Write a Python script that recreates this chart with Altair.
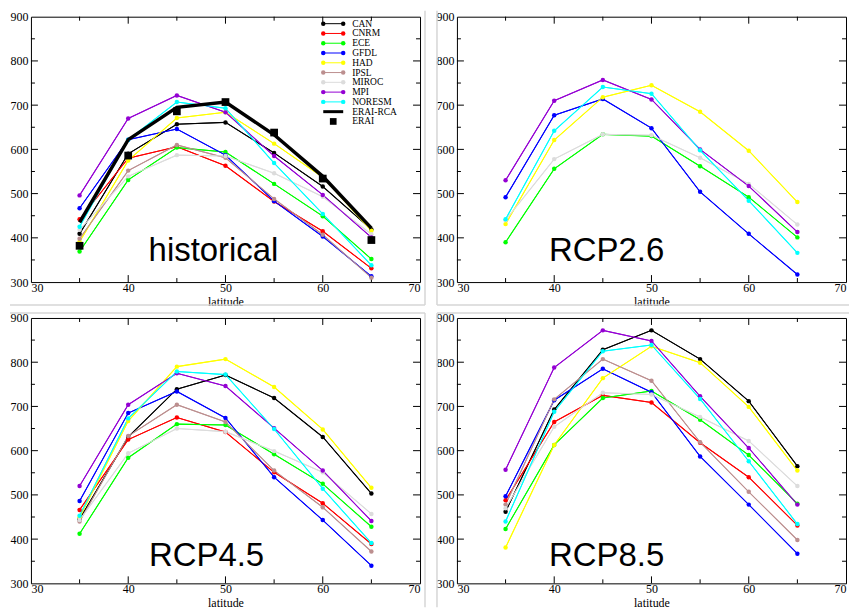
import altair as alt
import pandas as pd

# ---------------- data ----------------
LAT = [35, 40, 45, 50, 55, 60, 65]
MODELS = ["CAN", "CNRM", "ECE", "GFDL", "HAD", "IPSL", "MIROC", "MPI", "NORESM"]
LEGEND_ENTRIES = MODELS + ["ERAI-RCA", "ERAI"]
COLORS = ["#000000", "#ff0000", "#00ff00", "#0000ff", "#ffff00", "#bc8f8f",
          "#dcdcdc", "#9400d3", "#00ffff", "#000000", "#000000"]

X_LABELS = [30, 40, 50, 60, 70]
X_MAJOR = [40, 50, 60]
X_MINOR = [35, 45, 55, 65]
Y_LABELS = [300, 400, 500, 600, 700, 800, 900]
Y_MAJOR = [400, 500, 600, 700, 800]
Y_MINOR = [350, 450, 550, 650, 750, 850]

# historical
HIST_CAN = [409, 590, 657, 661, 592, 516, 419]
HIST_CNRM = [442, 580, 606, 563, 482, 415, 331]
HIST_ECE = [369, 531, 604, 594, 522, 449, 352]
HIST_GFDL = [467, 622, 646, 587, 483, 403, 313]
HIST_HAD = [391, 575, 671, 684, 613, 537, 416]
HIST_IPSL = [398, 552, 610, 581, 488, 407, 310]
HIST_MIROC = [418, 539, 587, 585, 546, 493, 408]
HIST_MPI = [496, 670, 722, 684, 585, 497, 401]
HIST_NORESM = [425, 622, 707, 693, 569, 454, 338]
HIST_ERAI_RCA = [435, 622, 695, 707, 633, 539, 422]
HIST_ERAI = [382, 586, 686, 707, 638, 534, 395]

# RCP2.6
R26_ECE = [390, 556, 634, 630, 562, 492, 401]
R26_GFDL = [492, 677, 714, 648, 504, 409, 317]
R26_HAD = [431, 621, 718, 745, 685, 597, 481]
R26_MIROC = [440, 578, 634, 632, 581, 522, 430]
R26_MPI = [530, 710, 757, 713, 600, 517, 413]
R26_NORESM = [442, 642, 741, 726, 598, 484, 366]

# RCP4.5
R45_CAN = [445, 631, 739, 771, 719, 631, 503]
R45_CNRM = [466, 625, 675, 642, 551, 481, 389]
R45_ECE = [412, 584, 660, 658, 592, 525, 428]
R45_GFDL = [486, 685, 734, 674, 540, 443, 340]
R45_HAD = [449, 667, 790, 807, 744, 648, 516]
R45_IPSL = [440, 633, 704, 665, 555, 472, 372]
R45_MIROC = [443, 594, 650, 643, 599, 551, 457]
R45_MPI = [520, 704, 775, 746, 651, 555, 441]
R45_NORESM = [453, 673, 779, 772, 649, 514, 391]

# RCP8.5
R85_CAN = [462, 693, 828, 872, 807, 712, 565]
R85_CNRM = [488, 665, 725, 709, 618, 540, 431]
R85_ECE = [423, 613, 719, 735, 670, 590, 480]
R85_GFDL = [497, 714, 785, 732, 587, 478, 367]
R85_HAD = [381, 613, 764, 836, 799, 699, 555]
R85_IPSL = [478, 716, 807, 758, 619, 507, 398]
R85_MIROC = [470, 654, 731, 727, 676, 622, 520]
R85_MPI = [557, 788, 872, 848, 723, 606, 478]
R85_NORESM = [440, 688, 825, 839, 717, 576, 434]

HIST_SERIES = {"CAN": HIST_CAN, "CNRM": HIST_CNRM, "ECE": HIST_ECE, "GFDL": HIST_GFDL,
               "HAD": HIST_HAD, "IPSL": HIST_IPSL, "MIROC": HIST_MIROC, "MPI": HIST_MPI,
               "NORESM": HIST_NORESM}
R26_SERIES = {"ECE": R26_ECE, "GFDL": R26_GFDL, "HAD": R26_HAD, "MIROC": R26_MIROC,
              "MPI": R26_MPI, "NORESM": R26_NORESM}
R45_SERIES = {"CAN": R45_CAN, "CNRM": R45_CNRM, "ECE": R45_ECE, "GFDL": R45_GFDL,
              "HAD": R45_HAD, "IPSL": R45_IPSL, "MIROC": R45_MIROC, "MPI": R45_MPI,
              "NORESM": R45_NORESM}
R85_SERIES = {"CAN": R85_CAN, "CNRM": R85_CNRM, "ECE": R85_ECE, "GFDL": R85_GFDL,
              "HAD": R85_HAD, "IPSL": R85_IPSL, "MIROC": R85_MIROC, "MPI": R85_MPI,
              "NORESM": R85_NORESM}

# ---------------- style ----------------
W, H = 390, 266
SERIF = "Liberation Serif"
SANS = "Liberation Sans"
BORDER = "#d6d6d6"

XS = alt.Scale(domain=[30, 70], nice=False, zero=False)
YS = alt.Scale(domain=[300, 900], nice=False, zero=False)
CS = alt.Scale(domain=LEGEND_ENTRIES, range=COLORS)


def xaxis():
    return alt.Axis(values=X_LABELS, title="latitude", ticks=False, domain=False, grid=False,
                    format="d", labelPadding=0, titlePadding=3)


def yaxis():
    return alt.Axis(values=Y_LABELS, title=None, ticks=False, domain=False, grid=False,
                    format="d", labelPadding=3)


def X():
    return alt.X("lat:Q", scale=XS, axis=xaxis())


def Y():
    return alt.Y("value:Q", scale=YS, axis=yaxis())


def long_df(series):
    rows = []
    for m in MODELS:
        if m in series:
            for la, v in zip(LAT, series[m]):
                rows.append({"lat": la, "value": v, "model": m})
    return pd.DataFrame(rows)


def tick_layers():
    layers = []
    for vals, L in [(X_MAJOR, 7), (X_MINOR, 4)]:
        b = alt.Chart(pd.DataFrame({"lat": vals})).mark_rule(color="black", strokeWidth=1)
        layers.append(b.encode(x=X(), y=alt.value(H), y2=alt.value(H - L)))
        layers.append(b.encode(x=X(), y=alt.value(0), y2=alt.value(L)))
    for vals, L in [(Y_MAJOR, 7), (Y_MINOR, 4)]:
        b = alt.Chart(pd.DataFrame({"value": vals})).mark_rule(color="black", strokeWidth=1)
        layers.append(b.encode(y=Y(), x=alt.value(0), x2=alt.value(L)))
        layers.append(b.encode(y=Y(), x=alt.value(W), x2=alt.value(W - L)))
    return layers


def border_layers(segs):
    one = pd.DataFrame({"k": [0]})
    out = []
    for (x1, y1, x2, y2) in segs:
        out.append(alt.Chart(one).mark_rule(color=BORDER, strokeWidth=1.5).encode(
            x=alt.value(x1), y=alt.value(y1), x2=alt.value(x2), y2=alt.value(y2)))
    return out


def legend_layers():
    leg = pd.DataFrame({"model": LEGEND_ENTRIES, "i": list(range(len(LEGEND_ENTRIES)))})
    base = alt.Chart(leg).transform_calculate(py="7 + datum.i * 9.8")
    ypx = alt.Y("py:Q", scale=None)
    col = alt.Color("model:N", scale=CS, legend=None)
    mods = base.transform_filter("datum.i < 9")
    x1, x2 = 293, 313
    return [
        mods.mark_rule(strokeWidth=1).encode(x=alt.value(x1), x2=alt.value(x2), y=ypx, color=col),
        mods.mark_circle(size=20, opacity=1).encode(x=alt.value(x1), y=ypx, color=col),
        mods.mark_circle(size=20, opacity=1).encode(x=alt.value(x2), y=ypx, color=col),
        base.transform_filter("datum.i == 9").mark_rule(strokeWidth=3).encode(
            x=alt.value(x1), x2=alt.value(x2), y=ypx, color=col),
        base.transform_filter("datum.i == 10").mark_square(size=45, opacity=1).encode(
            x=alt.value((x1 + x2) / 2), y=ypx, color=col),
        base.mark_text(align="left", baseline="middle", font=SERIF, fontSize=9.5,
                       color="black").encode(x=alt.value(322), y=ypx, text="model:N"),
    ]


def panel(series, label, lx, ly, borders, erai_rca=None, erai=None, legend=False):
    df = long_df(series)
    col = alt.Color("model:N", scale=CS, legend=None)
    base = alt.Chart(df)
    layers = [base.mark_line(strokeWidth=1).encode(x=X(), y=Y(), color=col)]
    layers += border_layers(borders) + tick_layers()
    layers.append(alt.Chart(pd.DataFrame({"label": [label]})).mark_text(
        font=SANS, fontSize=33, align="center", baseline="alphabetic", color="black").encode(
        x=alt.value(lx), y=alt.value(ly), text="label:N"))
    layers.append(base.mark_line(strokeWidth=1.1).encode(x=X(), y=Y(), color=col))
    layers.append(base.mark_circle(size=20, opacity=1).encode(x=X(), y=Y(), color=col))
    if erai_rca is not None:
        d = pd.DataFrame({"lat": LAT, "value": erai_rca, "model": "ERAI-RCA"})
        layers.append(alt.Chart(d).mark_line(strokeWidth=3.5).encode(x=X(), y=Y(), color=col))
    if erai is not None:
        d = pd.DataFrame({"lat": LAT, "value": erai, "model": "ERAI"})
        layers.append(alt.Chart(d).mark_square(size=60, opacity=1).encode(x=X(), y=Y(), color=col))
    if legend:
        layers += legend_layers()
    return alt.layer(*layers).properties(width=W, height=H)


p_hist = panel(HIST_SERIES, "historical", 183, 245,
               [(W + 5, -6, W + 5, H + 23), (-21, H + 23, W + 5, H + 23)],
               erai_rca=HIST_ERAI_RCA, erai=HIST_ERAI, legend=True)
p_26 = panel(R26_SERIES, "RCP2.6", 150, 245,
             [(-20, -6, -20, H + 23), (-20, H + 23, W + 3, H + 23)])
p_45 = panel(R45_SERIES, "RCP4.5", 176, 249,
             [(-21, -5, W + 5, -5), (W + 5, -5, W + 5, H + 24)])
p_85 = panel(R85_SERIES, "RCP8.5", 150, 249,
             [(-20, -5, W + 3, -5), (-20, -5, -20, H + 24)])

chart = alt.concat(p_hist, p_26, p_45, p_85, columns=2,
                   spacing={"row": 36, "column": 37}, bounds="flush").properties(
    padding={"left": 0, "top": 0, "right": 0, "bottom": 0},
    background="white",
).configure_view(stroke="black", strokeWidth=1).configure_axis(
    labelFont=SERIF, labelFontSize=12, labelColor="black",
    titleFont=SERIF, titleFontSize=12, titleFontWeight="normal", titleColor="black",
)

chart.save("out.html", embed_options={"renderer": "svg", "actions": False})
